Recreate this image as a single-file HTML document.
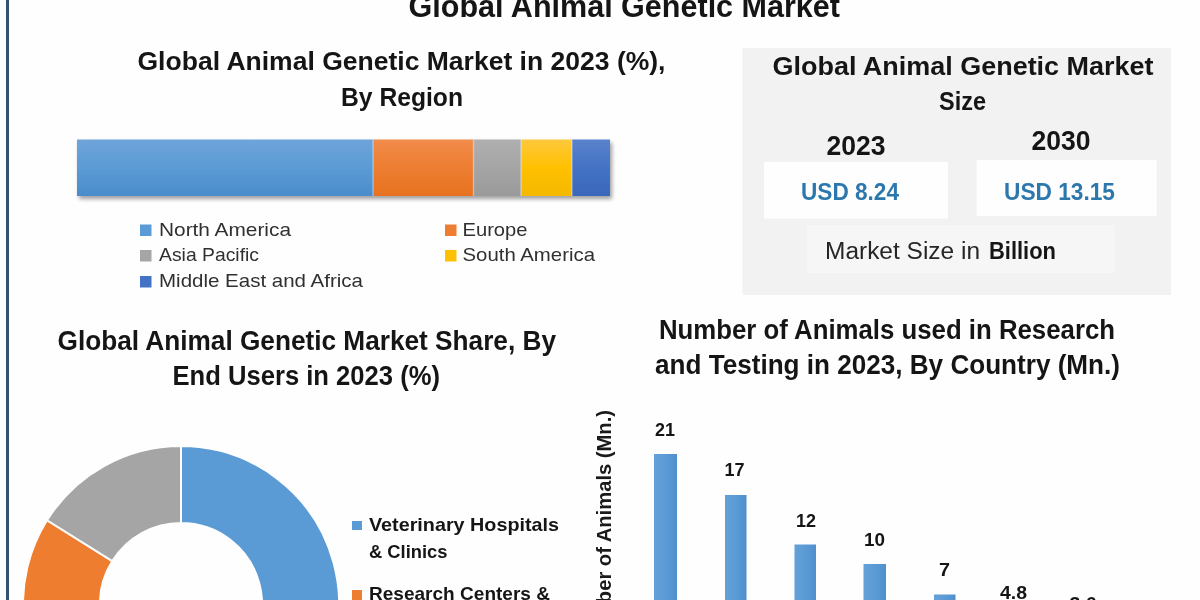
<!DOCTYPE html>
<html lang="en"><head><meta charset="utf-8"><title>Global Animal Genetic Market</title>
<style>
html,body{margin:0;padding:0;background:#fefefe;}
body{width:1200px;height:600px;overflow:hidden;}
svg{display:block;font-family:"Liberation Sans",Arial,sans-serif;}
</style></head><body>
<svg width="1200" height="600" viewBox="0 0 1200 600">
<defs>
<linearGradient id="gB" x1="0" y1="0" x2="0" y2="1"><stop offset="0" stop-color="#6fa4da"/><stop offset="0.5" stop-color="#5b9bd5"/><stop offset="1" stop-color="#4a8ccc"/></linearGradient>
<linearGradient id="gO" x1="0" y1="0" x2="0" y2="1"><stop offset="0" stop-color="#f18c4a"/><stop offset="0.5" stop-color="#ed7d31"/><stop offset="1" stop-color="#e7721f"/></linearGradient>
<linearGradient id="gG" x1="0" y1="0" x2="0" y2="1"><stop offset="0" stop-color="#afafaf"/><stop offset="0.5" stop-color="#a5a5a5"/><stop offset="1" stop-color="#9a9a9a"/></linearGradient>
<linearGradient id="gY" x1="0" y1="0" x2="0" y2="1"><stop offset="0" stop-color="#ffc83d"/><stop offset="0.5" stop-color="#ffc000"/><stop offset="1" stop-color="#f4b800"/></linearGradient>
<linearGradient id="gD" x1="0" y1="0" x2="0" y2="1"><stop offset="0" stop-color="#5a83cb"/><stop offset="0.5" stop-color="#4472c4"/><stop offset="1" stop-color="#3a68bb"/></linearGradient>
<linearGradient id="gC" x1="0" y1="0" x2="1" y2="0"><stop offset="0" stop-color="#64a1d9"/><stop offset="0.5" stop-color="#5b9bd5"/><stop offset="1" stop-color="#4f8fcc"/></linearGradient>
<filter id="sh" x="-5%" y="-20%" width="110%" height="150%"><feGaussianBlur in="SourceAlpha" stdDeviation="2"/><feOffset dx="1.5" dy="3"/><feComponentTransfer><feFuncA type="linear" slope="0.38"/></feComponentTransfer><feMerge><feMergeNode/><feMergeNode in="SourceGraphic"/></feMerge></filter>
</defs>
<rect x="0" y="0" width="1200" height="600" fill="#fefefe"/>
<rect x="6" y="0" width="3" height="600" fill="#36526e"/>
<text x="408.5" y="17.3" font-size="30.5" font-weight="bold" fill="#151515" text-anchor="start" textLength="431.5" lengthAdjust="spacingAndGlyphs">Global Animal Genetic Market</text>
<text x="137.5" y="70" font-size="26" font-weight="bold" fill="#151515" text-anchor="start" textLength="528" lengthAdjust="spacingAndGlyphs">Global Animal Genetic Market in 2023 (%),</text>
<text x="341" y="106" font-size="26" font-weight="bold" fill="#151515" text-anchor="start" textLength="122" lengthAdjust="spacingAndGlyphs">By Region</text>
<g filter="url(#sh)">
<rect x="77" y="139.5" width="296" height="56.5" fill="url(#gB)"/>
<rect x="373" y="139.5" width="100" height="56.5" fill="url(#gO)"/>
<rect x="473" y="139.5" width="48" height="56.5" fill="url(#gG)"/>
<rect x="521" y="139.5" width="51" height="56.5" fill="url(#gY)"/>
<rect x="572" y="139.5" width="38" height="56.5" fill="url(#gD)"/>
<rect x="372.25" y="139.5" width="1.5" height="56.5" fill="#ffffff" fill-opacity="0.35"/>
<rect x="472.75" y="139.5" width="1.5" height="56.5" fill="#ffffff" fill-opacity="0.35"/>
<rect x="520.25" y="139.5" width="1.5" height="56.5" fill="#ffffff" fill-opacity="0.35"/>
<rect x="571.25" y="139.5" width="1.5" height="56.5" fill="#ffffff" fill-opacity="0.35"/>
</g>
<rect x="140" y="224.5" width="11.5" height="11.5" fill="#5b9bd5"/>
<text x="159" y="235.5" font-size="19" font-weight="normal" fill="#303030" text-anchor="start" textLength="132" lengthAdjust="spacingAndGlyphs">North America</text>
<rect x="140" y="250" width="11.5" height="11.5" fill="#a5a5a5"/>
<text x="159" y="261" font-size="19" font-weight="normal" fill="#303030" text-anchor="start" textLength="100" lengthAdjust="spacingAndGlyphs">Asia Pacific</text>
<rect x="140" y="276" width="11.5" height="11.5" fill="#4472c4"/>
<text x="159" y="287" font-size="19" font-weight="normal" fill="#303030" text-anchor="start" textLength="204" lengthAdjust="spacingAndGlyphs">Middle East and Africa</text>
<rect x="445" y="224.5" width="11.5" height="11.5" fill="#ed7d31"/>
<text x="462.5" y="235.5" font-size="19" font-weight="normal" fill="#303030" text-anchor="start" textLength="65" lengthAdjust="spacingAndGlyphs">Europe</text>
<rect x="445" y="250" width="11.5" height="11.5" fill="#ffc000"/>
<text x="462.5" y="261" font-size="19" font-weight="normal" fill="#303030" text-anchor="start" textLength="132.5" lengthAdjust="spacingAndGlyphs">South America</text>
<rect x="742.5" y="48" width="428.5" height="247" fill="#f2f2f2"/>
<rect x="764" y="162" width="184" height="56.5" fill="#fefefe"/>
<rect x="976.5" y="160" width="180" height="56" fill="#fefefe"/>
<rect x="807" y="225" width="308" height="48" fill="#f6f6f6"/>
<text x="772.5" y="74.5" font-size="25.5" font-weight="bold" fill="#151515" text-anchor="start" textLength="381" lengthAdjust="spacingAndGlyphs">Global Animal Genetic Market</text>
<text x="939" y="110" font-size="25.5" font-weight="bold" fill="#151515" text-anchor="start" textLength="47" lengthAdjust="spacingAndGlyphs">Size</text>
<text x="826.5" y="154.5" font-size="28.5" font-weight="bold" fill="#151515" text-anchor="start" textLength="59" lengthAdjust="spacingAndGlyphs">2023</text>
<text x="1031.5" y="150" font-size="28.5" font-weight="bold" fill="#151515" text-anchor="start" textLength="59" lengthAdjust="spacingAndGlyphs">2030</text>
<text x="801" y="200" font-size="23" font-weight="bold" fill="#2c78ad" text-anchor="start" textLength="98" lengthAdjust="spacingAndGlyphs">USD 8.24</text>
<text x="1004" y="200" font-size="23" font-weight="bold" fill="#2c78ad" text-anchor="start" textLength="111" lengthAdjust="spacingAndGlyphs">USD 13.15</text>
<text x="825" y="259" font-size="23.5" font-weight="normal" fill="#262626" text-anchor="start" textLength="155" lengthAdjust="spacingAndGlyphs">Market Size in</text>
<text x="989" y="259" font-size="23.5" font-weight="bold" fill="#151515" text-anchor="start" textLength="67" lengthAdjust="spacingAndGlyphs">Billion</text>
<text x="57.5" y="350" font-size="27" font-weight="bold" fill="#151515" text-anchor="start" textLength="498.5" lengthAdjust="spacingAndGlyphs">Global Animal Genetic Market Share, By</text>
<text x="172.5" y="385" font-size="27" font-weight="bold" fill="#151515" text-anchor="start" textLength="267.5" lengthAdjust="spacingAndGlyphs">End Users in 2023 (%)</text>
<path d="M181.00,446.00 A158,158 0 0 1 260.00,740.83 L221.50,674.15 A81,81 0 0 0 181.00,523.00 Z" fill="#5b9bd5" stroke="#fefefe" stroke-width="2"/>
<path d="M260.00,740.83 A158,158 0 0 1 47.01,520.27 L112.31,561.08 A81,81 0 0 0 221.50,674.15 Z" fill="#ee7d2f" stroke="#fefefe" stroke-width="2"/>
<path d="M47.01,520.27 A158,158 0 0 1 181.00,446.00 L181.00,523.00 A81,81 0 0 0 112.31,561.08 Z" fill="#a5a5a5" stroke="#fefefe" stroke-width="2"/>
<rect x="352" y="521" width="10" height="9" fill="#5b9bd5"/>
<text x="369" y="530.5" font-size="19" font-weight="bold" fill="#151515" text-anchor="start" textLength="190" lengthAdjust="spacingAndGlyphs">Veterinary Hospitals</text>
<text x="369" y="557.5" font-size="19" font-weight="bold" fill="#151515" text-anchor="start" textLength="78.5" lengthAdjust="spacingAndGlyphs">&amp; Clinics</text>
<rect x="352" y="590" width="10" height="10" fill="#ed7d31"/>
<text x="369" y="600" font-size="19" font-weight="bold" fill="#151515" text-anchor="start" textLength="181" lengthAdjust="spacingAndGlyphs">Research Centers &amp;</text>
<text x="659" y="339" font-size="27.5" font-weight="bold" fill="#151515" text-anchor="start" textLength="456" lengthAdjust="spacingAndGlyphs">Number of Animals used in Research</text>
<text x="655" y="374" font-size="27.5" font-weight="bold" fill="#151515" text-anchor="start" textLength="465" lengthAdjust="spacingAndGlyphs">and Testing in 2023, By Country (Mn.)</text>
<text transform="translate(611,410) rotate(-90)" font-size="20" font-weight="bold" fill="#1a1a1a" text-anchor="end" textLength="238" lengthAdjust="spacingAndGlyphs">Number of Animals (Mn.)</text>
<rect x="654" y="454" width="23" height="151" fill="url(#gC)"/>
<rect x="725" y="495" width="21.5" height="110" fill="url(#gC)"/>
<rect x="794.5" y="544.5" width="21.5" height="60.5" fill="url(#gC)"/>
<rect x="863.5" y="564" width="22.5" height="41" fill="url(#gC)"/>
<rect x="934" y="594.5" width="21.5" height="10.5" fill="url(#gC)"/>
<text x="665" y="435.5" font-size="19" font-weight="bold" fill="#151515" text-anchor="middle" textLength="20" lengthAdjust="spacingAndGlyphs">21</text>
<text x="734.5" y="476" font-size="19" font-weight="bold" fill="#151515" text-anchor="middle" textLength="20" lengthAdjust="spacingAndGlyphs">17</text>
<text x="806" y="526.5" font-size="19" font-weight="bold" fill="#151515" text-anchor="middle" textLength="20" lengthAdjust="spacingAndGlyphs">12</text>
<text x="874.5" y="546" font-size="19" font-weight="bold" fill="#151515" text-anchor="middle" textLength="21" lengthAdjust="spacingAndGlyphs">10</text>
<text x="944.5" y="575.5" font-size="19" font-weight="bold" fill="#151515" text-anchor="middle" textLength="11" lengthAdjust="spacingAndGlyphs">7</text>
<text x="1013.5" y="598.5" font-size="19" font-weight="bold" fill="#151515" text-anchor="middle" textLength="27" lengthAdjust="spacingAndGlyphs">4.8</text>
<text x="1083" y="609.5" font-size="19" font-weight="bold" fill="#151515" text-anchor="middle" textLength="27" lengthAdjust="spacingAndGlyphs">3.6</text>
</svg>
</body></html>
